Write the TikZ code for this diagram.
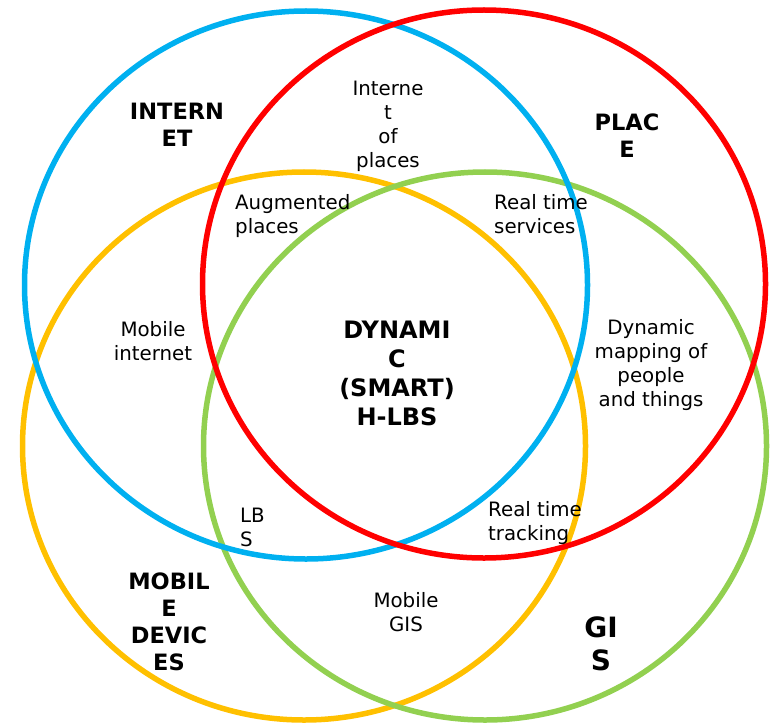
\documentclass[tikz,border=0pt]{standalone}
\usepackage{fontspec}
\setmainfont{DejaVu Sans}
\usetikzlibrary{shapes.geometric}

\definecolor{netblue}{HTML}{00B0F0}
\definecolor{placered}{HTML}{FF0000}
\definecolor{mobyellow}{HTML}{FFC000}
\definecolor{gisgreen}{HTML}{92D050}

\tikzset{
  setring/.style={ellipse,line width=5.5pt,minimum width=563pt,minimum height=548pt,inner sep=0pt},
  lbl/.style={align=center,inner sep=0pt,font=\fontsize{19.8}{24}\selectfont},
  lbll/.style={lbl,align=left,anchor=west},
  setname/.style={align=center,inner sep=0pt,font=\bfseries\fontsize{22.5}{27}\selectfont},
}

\begin{document}
\begin{tikzpicture}[x=1pt,y=-1pt]
		\useasboundingbox (0,0) rectangle (770,722);
		\begin{scope}
		    \node[setring,draw=mobyellow] (mobile) at (304,446) {};
		    \node[setring,draw=gisgreen] (gis) at (485,446) {};
		    \node[setring,draw=netblue] (internet) at (306,285) {};
		    \node[setring,draw=placered] (place) at (484,284) {};
		\end{scope}
		
		\begin{scope}
		    \node[setname] (internet-t) at (177,125) {INTERN\\ET};
		    \node[setname] (place-t) at (627,136) {PLAC\\E};
		    \node[setname] (mobile-t) at (169,622) {MOBIL\\E\\DEVIC\\ES};
		    \node[setname,font=\bfseries\fontsize{28}{33}\selectfont] (gis-t) at (601,644) {GI\\S};
		    \node[setname,font=\bfseries\fontsize{24}{29}\selectfont] (core) at (397,373) {DYNAMI\\C\\(SMART)\\H-LBS};
		\end{scope}
		
		\begin{scope}
		    \node[lbl] (iop) at (388,126) {Interne\\t\\of\\places};
		    \node[lbll] (augm) at (235,216) {Augmented\\places};
		    \node[lbll] (rts) at (494,214) {Real time\\services};
		    \node[lbl] (mobnet) at (153,341) {Mobile\\internet};
		    \node[lbl] (dynmap) at (651,365) {Dynamic\\mapping of\\people\\and things};
		    \node[lbll] (lbs) at (240,527) {LB\\S};
		    \node[lbll] (rtt) at (488,523) {Real time\\tracking};
		    \node[lbl] (mobgis) at (406,612) {Mobile\\GIS};
		\end{scope}
\end{tikzpicture}
\end{document}
